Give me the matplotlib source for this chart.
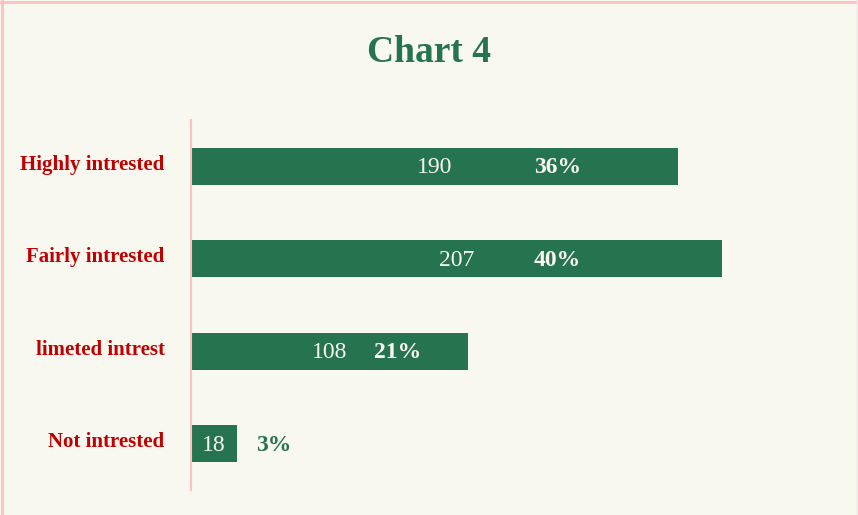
import matplotlib.pyplot as plt
from matplotlib.lines import Line2D
import matplotlib.transforms as mtransforms

# data
categories = ["Highly intrested", "Fairly intrested", "limeted intrest", "Not intrested"]
counts = [190, 207, 108, 18]
percents = ["36%", "40%", "21%", "3%"]

green = "#267350"
red = "#c00000"
bg = "#f8f7f0"
pink = "#ffc0c0"

plt.rcParams['font.family'] = ['Liberation Serif', 'DejaVu Serif']

fig = plt.figure(figsize=(8.58, 5.15), dpi=100, facecolor=bg)
ax = fig.add_axes([191 / 858, 25 / 515, 600 / 858, 370 / 515])
ax.set_facecolor(bg)

ypos = list(range(len(categories)))
ax.barh(ypos, counts, height=0.4, color=green)
ax.set_xlim(0, 600 / 2.565)
ax.set_ylim(len(categories) - 0.5, -0.5)

# value labels centred in bar, percent labels shifted right (offsets in px)
pct_shift = [123, 101, 68, 60]
for i, (c, p) in enumerate(zip(counts, percents)):
    ax.annotate(str(c), (c / 2, i), xytext=(0, -1), textcoords="offset points",
                ha="center", va="center", color=bg, fontsize=17)
    col = bg if p != "3%" else green
    ax.annotate(p, (c / 2, i), xytext=(pct_shift[i] * 0.72, -1), textcoords="offset points",
                ha="center", va="center", color=col, fontsize=17, fontweight="bold")

ax.set_yticks(ypos)
ax.set_yticklabels(categories, color=red, fontsize=15, fontweight="bold")
ax.tick_params(axis="y", length=0, pad=19)
shift = mtransforms.ScaledTranslation(0, 4 / 100, fig.dpi_scale_trans)
for lab in ax.get_yticklabels():
    lab.set_transform(lab.get_transform() + shift)
ax.set_xticks([])
for s in ["top", "right", "bottom"]:
    ax.spines[s].set_visible(False)
ax.spines["left"].set_color(pink)
ax.spines["left"].set_linewidth(1.5)

fig.text(0.5, 1 - 53 / 515, "Chart 4", ha="center", va="center",
         color=green, fontsize=27, fontweight="bold")

# frame lines (top, left, right)
fig.add_artist(Line2D([0, 1], [0.996, 0.996], color=pink, lw=2, transform=fig.transFigure))
fig.add_artist(Line2D([0.002, 0.002], [0, 1], color=pink, lw=2, transform=fig.transFigure))
fig.add_artist(Line2D([0.999, 0.999], [0, 1], color="#f0e6e6", lw=1, transform=fig.transFigure))

fig.savefig("out.png", dpi=100, facecolor=bg)
